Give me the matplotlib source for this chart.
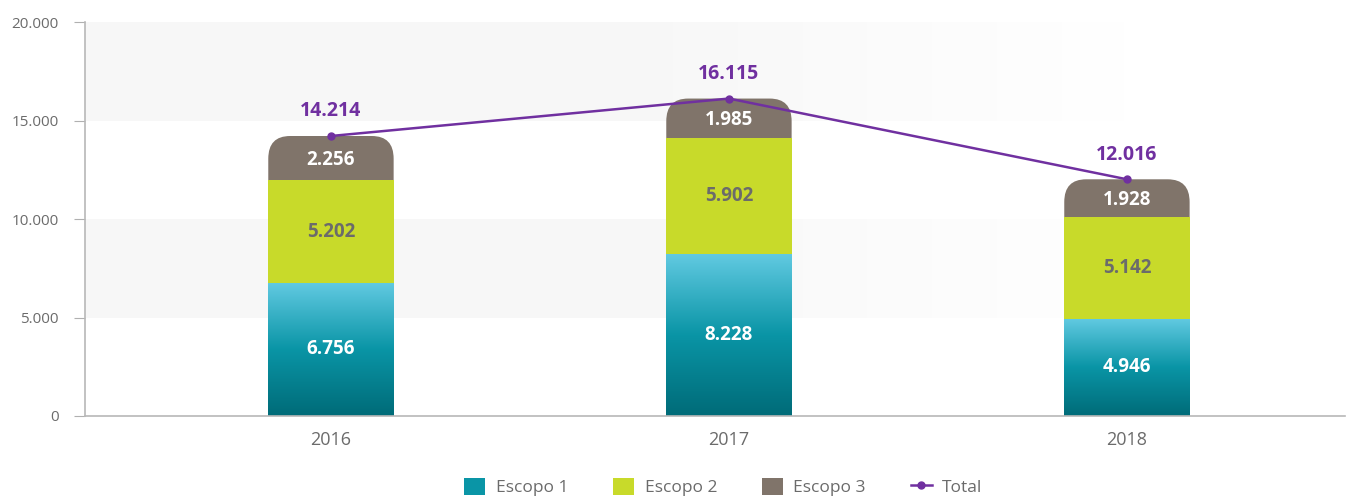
import numpy as np
import matplotlib.pyplot as plt
from matplotlib.patches import FancyBboxPatch
from matplotlib.lines import Line2D
from matplotlib.patches import Patch
from matplotlib.colors import LinearSegmentedColormap

years = ["2016", "2017", "2018"]
escopo1 = [6756, 8228, 4946]
escopo2 = [5202, 5902, 5142]
escopo3 = [2256, 1985, 1928]
total = [14214, 16115, 12016]
yticks = [0, 5000, 10000, 15000, 20000]

c_esc2 = "#c8da2a"
c_esc3 = "#80746a"
c_total = "#7030a0"
c_grey = "#6b6b6b"


def fmt(v):
    return f"{v:,}".replace(",", ".")


plt.rcParams['font.family'] = ['Open Sans', 'DejaVu Sans']

fig = plt.figure(figsize=(13.6, 4.96), dpi=100)
ax = fig.add_axes([0.0625, 0.1613, 0.9265, 0.7943])

x = np.arange(len(years))
w = 0.315
xlim = (-0.618, 2.548)
ax.set_xlim(*xlim)
ax.set_ylim(0, 20000)

# faded background bands
fade = np.ones((1, 300, 4))
fade[..., :3] = 0.97
xs = np.linspace(xlim[0], xlim[1], 300)
fade[0, :, 3] = np.clip((2.0 - xs) / 1.3, 0, 1)
for lo, hi in [(5000, 10000), (15000, 20000)]:
    ax.imshow(fade, extent=[xlim[0], xlim[1], lo, hi], aspect="auto", zorder=0,
              interpolation="bilinear")

# escopo 1 with vertical gradient
grad = np.linspace(0, 1, 256).reshape(-1, 1)
cmap = LinearSegmentedColormap.from_list("teal", ["#006b78", "#0a95a6", "#62cae2"])
bars1 = ax.bar(x, escopo1, w, color="none", zorder=2)
for b in bars1:
    im = ax.imshow(grad, extent=[b.get_x(), b.get_x() + b.get_width(), 0, b.get_height()],
                   origin="lower", cmap=cmap, aspect="auto", zorder=2)
    im.set_clip_path(b)

ax.bar(x, escopo2, w, bottom=escopo1, color=c_esc2, zorder=3)

# escopo 3 with rounded top, drawn behind escopo 2
bottom3 = [a + b for a, b in zip(escopo1, escopo2)]
rx = 0.055
ry = 1150
for xi, b3, h3 in zip(x, bottom3, escopo3):
    p = FancyBboxPatch((xi - w / 2, b3 - 2000), w, h3 + 2000,
                       boxstyle=f"round,pad=0,rounding_size={rx}",
                       mutation_aspect=ry / rx, facecolor=c_esc3, edgecolor="none",
                       zorder=1.5)
    ax.add_patch(p)

ax.plot(x, total, color=c_total, lw=1.8, marker="o", ms=5, zorder=5)

for xi, a, b, c, t in zip(x, escopo1, escopo2, escopo3, total):
    ax.text(xi, a / 2, fmt(a), ha="center", va="center", color="white",
            fontsize=13.5, fontweight="bold", zorder=6)
    ax.text(xi, a + b / 2, fmt(b), ha="center", va="center", color=c_grey,
            fontsize=13.5, fontweight="bold", zorder=6)
    ax.text(xi, a + b + c / 2 - 80, fmt(c), ha="center", va="center", color="white",
            fontsize=13.5, fontweight="bold", zorder=6)
    ax.text(xi, t + 1250, fmt(t), ha="center", va="center", color=c_total,
            fontsize=14, fontweight="bold", zorder=6)

ax.set_xticks(x)
ax.set_xticklabels(years, fontsize=13, color=c_grey)
ax.tick_params(axis="x", length=0, pad=11)
ax.set_yticks(yticks)
ax.set_yticklabels([fmt(v) for v in yticks], fontsize=11, color=c_grey)
ax.tick_params(axis="y", length=8, color="#b0b0b0", pad=11)

for s in ["top", "right"]:
    ax.spines[s].set_visible(False)
for s in ["left", "bottom"]:
    ax.spines[s].set_color("#b8b8b8")
    ax.spines[s].set_linewidth(1.2)

handles = [
    Patch(facecolor="#0a95a6", label="Escopo 1"),
    Patch(facecolor=c_esc2, label="Escopo 2"),
    Patch(facecolor=c_esc3, label="Escopo 3"),
    Line2D([0], [0], color=c_total, lw=1.8, marker="o", ms=5, label="Total"),
]
leg = fig.legend(handles=handles, loc="center", bbox_to_anchor=(0.532, 0.018), ncol=4,
                 frameon=False, fontsize=12.5, handlelength=1.2, handleheight=1.2,
                 columnspacing=2.6, handletextpad=0.6)
for t in leg.get_texts():
    t.set_color(c_grey)

fig.savefig("out.png", dpi=100)
